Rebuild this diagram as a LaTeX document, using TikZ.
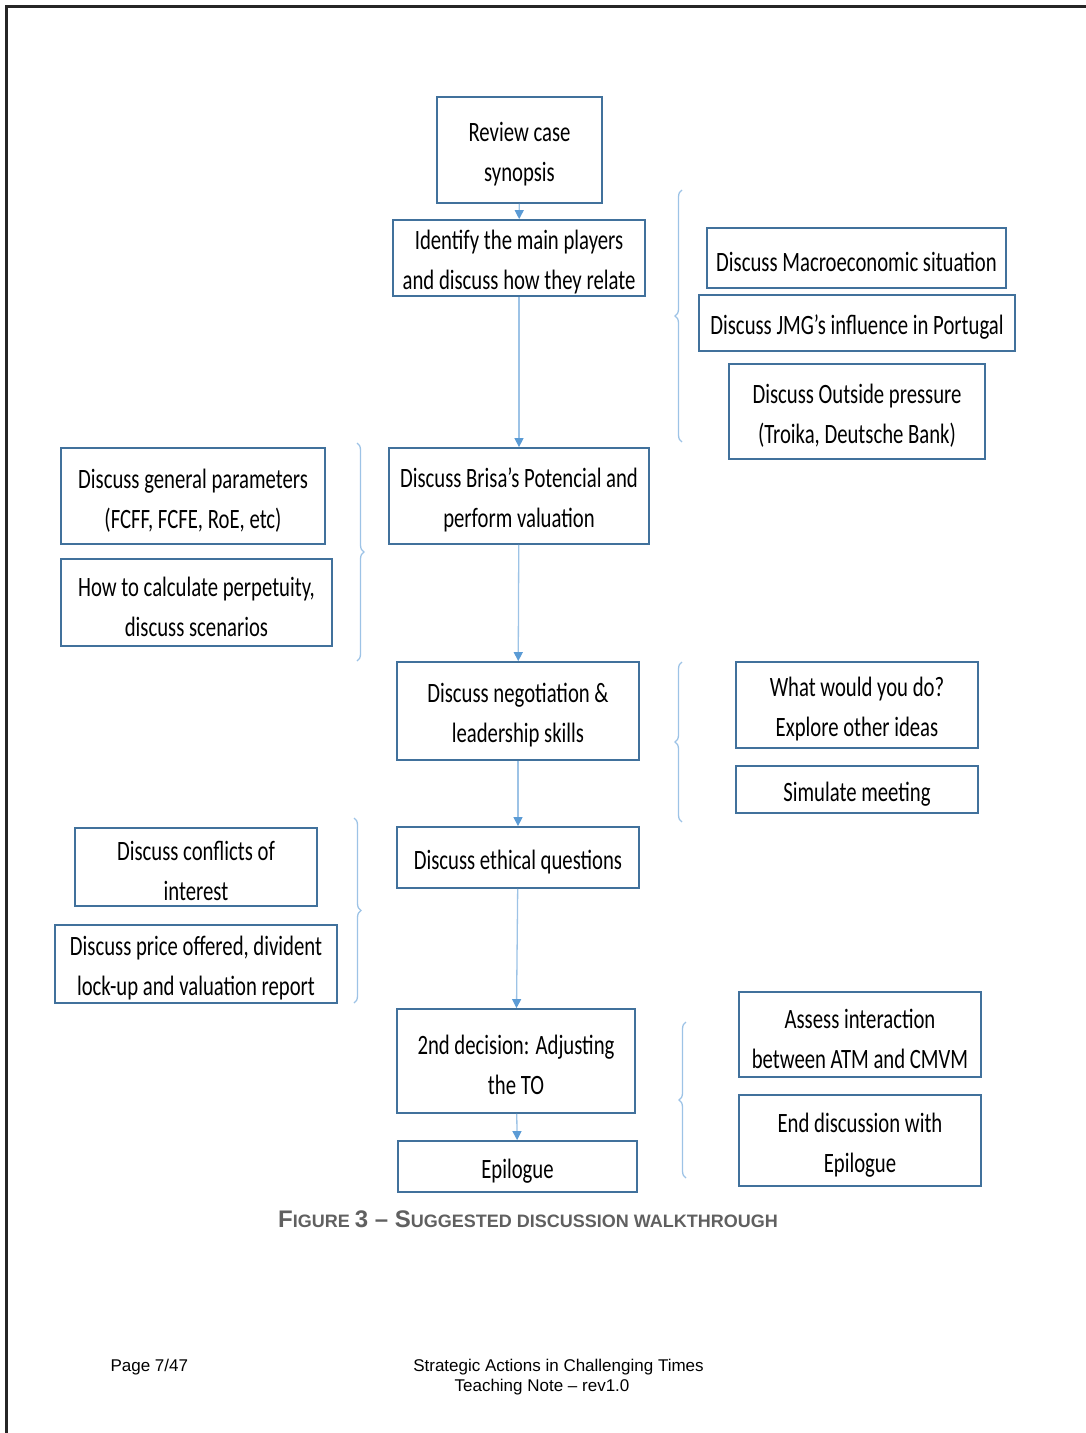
\documentclass[tikz,border=0pt]{standalone}
\usepackage{fontspec}
\usepackage{tikz}
\usetikzlibrary{arrows.meta,positioning,decorations.pathreplacing}
\setmainfont{Liberation Sans}
\newfontfamily\boxfont[FakeStretch=0.74]{Carlito}
\definecolor{boxblue}{RGB}{65,113,156}
\definecolor{lineblue}{RGB}{157,195,230}
\definecolor{tipblue}{RGB}{91,155,213}
\definecolor{capgray}{RGB}{96,96,96}
\newcommand{\capinit}[1]{{\fontsize{24}{27}\selectfont#1}}
\newcommand{\tall}{\rule{0pt}{28pt}}

\begin{document}
\begin{tikzpicture}[x=1pt,y=-1pt,
        task/.style={draw=boxblue, line width=1.8pt, align=center, inner sep=0pt,
          font=\boxfont\fontsize{28}{40}\selectfont, execute at begin node={\tall}},
        flow/.style={draw=lineblue, line width=1.3pt, -{Triangle[width=9pt,length=9pt,color=tipblue]}},
        group/.style={draw=lineblue, line width=1.3pt, decorate, decoration={brace,amplitude=7pt}},
        foot/.style={font=\fontsize{17}{19}\selectfont}]
        \useasboundingbox (0,0) rectangle (1086,1433);
        % page frame
        \draw[line width=3pt, black!85] (6,1433) -- (6,6) -- (1086,6);

        % main walkthrough
        \node[task, minimum width=165pt, minimum height=106pt] (review) at (519.5,150) {\tall Review case\\synopsis};
        \node[task, minimum width=252pt, minimum height=76pt] (players) at (519,258) {\tall Identify the main players\\and discuss how they relate};
        \node[task, minimum width=260pt, minimum height=96pt] (valuation) at (519,496) {\tall Discuss Brisa’s Potencial and\\perform valuation};
        \node[task, minimum width=242pt, minimum height=98pt] (negotiation) at (518,711) {\tall Discuss negotiation \&\\leadership skills};
        \node[task, minimum width=242pt, minimum height=61pt] (ethics) at (518,857.5) {Discuss ethical questions};
        \node[task, minimum width=238pt, minimum height=104pt] (decision) at (516,1061) {\tall 2nd decision: Adjusting\\the TO};
        \node[task, minimum width=239pt, minimum height=51pt] (epilogue) at (517.5,1166.5) {Epilogue};

        \draw[flow] (review) -- (players);
        \draw[flow] (players) -- (valuation);
        \draw[flow] (valuation) -- (negotiation);
        \draw[flow] (negotiation) -- (ethics);
        \draw[flow] (ethics) -- (decision);
        \draw[flow] (decision) -- (epilogue);

        % right side topics
        \node[task, minimum width=299pt, minimum height=60pt] (macro) at (856.5,258) {Discuss Macroeconomic situation};
        \node[task, minimum width=316pt, minimum height=56pt] (jmg) at (857,323) {Discuss JMG’s influence in Portugal};
        \node[task, minimum width=256pt, minimum height=95pt] (pressure) at (857,411.5) {\tall Discuss Outside pressure\\(Troika, Deutsche Bank)};
        \node[task, minimum width=242pt, minimum height=86pt] (ideas) at (857,705) {\tall What would you do?\\Explore other ideas};
        \node[task, minimum width=242pt, minimum height=47pt] (meeting) at (857,789.5) {Simulate meeting};
        \node[task, minimum width=242pt, minimum height=85pt] (interaction) at (860,1034.5) {\tall Assess interaction\\between ATM and CMVM};
        \node[task, minimum width=242pt, minimum height=91pt] (ending) at (860,1140.5) {\tall End discussion with\\Epilogue};

        % left side topics
        \node[task, minimum width=264pt, minimum height=96pt] (params) at (193,496) {\tall Discuss general parameters\\(FCFF, FCFE, RoE, etc)};
        \node[task, minimum width=271pt, minimum height=87pt] (perpetuity) at (196.5,602.5) {\tall How to calculate perpetuity,\\discuss scenarios};
        \node[task, minimum width=242pt, minimum height=78pt] (conflicts) at (196,867) {\tall Discuss conflicts of\\interest};
        \node[task, minimum width=282pt, minimum height=78pt] (price) at (196,964) {\tall Discuss price offered, divident\\lock-up and valuation report};

        % braces
        \draw[group] (682,442) -- (682,190);
        \draw[group] (357,443) -- (357,661);
        \draw[group] (682,822) -- (682,662);
        \draw[group] (354,818) -- (354,1003);
        \draw[group] (686,1178) -- (686,1022);

        % caption and footer
        \node[font=\bfseries\fontsize{18}{22}\selectfont, text=capgray] (caption) at (528,1219)
          {\capinit{F}IGURE \capinit{3 – S}UGGESTED DISCUSSION WALKTHROUGH};
        \node[foot, anchor=west] (page) at (107,1367) {Page 7/47};
        \node[foot] (title) at (558.5,1367) {Strategic Actions in Challenging Times};
        \node[foot] (note) at (542,1387) {Teaching Note – rev1.0};
      \end{tikzpicture}
\end{document}
